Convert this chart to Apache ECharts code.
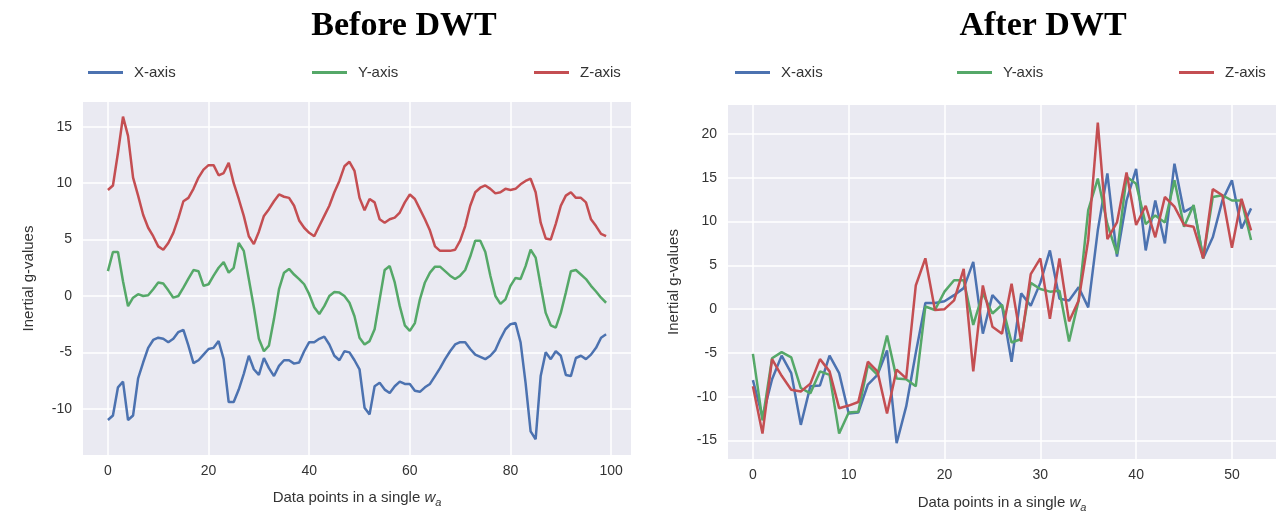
<!DOCTYPE html>
<html><head><meta charset="utf-8">
<script src="https://cdn.jsdelivr.net/npm/echarts@6/dist/echarts.min.js"></script>
<style>html,body{margin:0;padding:0;background:#fff}#c{width:1283px;height:514px}</style>
</head><body><div id="c"></div>
<script>
// ---- Data: Before DWT (100 samples) ----
const beforeX = [-11.0,-10.6,-8.1,-7.6,-11.0,-10.6,-7.3,-5.9,-4.6,-3.9,
 -3.7,-3.8,-4.1,-3.8,-3.2,-3.0,-4.4,-5.95,-5.7,-5.2,
 -4.7,-4.6,-4.0,-5.6,-9.4,-9.4,-8.3,-6.9,-5.3,-6.5,
 -7.0,-5.5,-6.4,-7.1,-6.2,-5.7,-5.7,-6.0,-5.9,-4.9,
 -4.1,-4.1,-3.8,-3.6,-4.3,-5.3,-5.7,-4.9,-5.0,-5.7,
 -6.5,-9.9,-10.5,-8.0,-7.7,-8.3,-8.6,-8.0,-7.6,-7.8,
 -7.8,-8.4,-8.5,-8.1,-7.8,-7.1,-6.4,-5.6,-4.9,-4.3,
 -4.1,-4.1,-4.7,-5.2,-5.4,-5.6,-5.3,-4.8,-3.8,-2.95,
 -2.5,-2.4,-4.1,-7.7,-12.0,-12.7,-7.1,-5.0,-5.6,-4.9,
 -5.3,-7.0,-7.1,-5.5,-5.3,-5.6,-5.2,-4.6,-3.7,-3.4];
const beforeY = [2.2,3.9,3.9,1.3,-0.9,-0.15,0.16,0.0,0.06,0.6,
 1.2,1.1,0.5,-0.15,0.0,0.74,1.54,2.3,2.2,0.9,
 1.04,1.8,2.5,3.0,2.07,2.5,4.7,4.0,1.5,-1.0,
 -3.8,-4.9,-4.4,-2.05,0.6,2.07,2.4,1.9,1.5,1.04,
 0.16,-1.0,-1.6,-0.9,0.0,0.35,0.3,0.0,-0.6,-1.8,
 -3.7,-4.3,-4.0,-2.95,-0.3,2.3,2.65,1.2,-0.9,-2.6,
 -3.1,-2.4,-0.3,1.2,2.07,2.6,2.6,2.2,1.8,1.5,
 1.8,2.3,3.5,4.9,4.9,3.9,1.8,0.0,-0.7,-0.3,
 0.9,1.6,1.5,2.65,4.1,3.4,0.9,-1.5,-2.6,-2.8,
 -1.5,0.3,2.2,2.3,1.9,1.5,0.9,0.4,-0.15,-0.6];
const beforeZ = [9.4,9.8,12.7,15.9,14.2,10.5,8.9,7.2,6.05,5.3,
 4.4,4.1,4.7,5.6,6.9,8.4,8.7,9.5,10.5,11.2,
 11.6,11.6,10.7,10.9,11.8,10.0,8.6,7.1,5.3,4.6,
 5.7,7.1,7.7,8.4,9.0,8.8,8.7,8.0,6.7,6.05,
 5.6,5.3,6.2,7.1,8.0,9.2,10.2,11.5,11.9,11.1,
 8.7,7.6,8.6,8.3,6.8,6.5,6.8,6.95,7.4,8.3,
 9.0,8.6,7.7,6.8,5.8,4.4,4.0,4.0,4.0,4.1,
 4.9,6.2,8.0,9.2,9.6,9.8,9.5,9.1,9.2,9.5,
 9.4,9.5,9.9,10.2,10.4,9.2,6.5,5.1,5.0,6.4,
 8.0,8.9,9.2,8.7,8.7,8.3,6.8,6.2,5.5,5.3];
// ---- Data: After DWT (53 samples) ----
const afterX = [-8.1,-12.3,-8.0,-5.3,-7.3,-13.2,-8.8,-8.7,-5.3,-7.3,
 -11.9,-11.8,-8.6,-7.5,-4.7,-15.3,-11.1,-5.0,0.7,0.7,
 0.9,1.6,2.4,5.4,-2.8,1.6,0.4,-6.0,1.8,0.4,
 3.0,6.7,1.2,1.0,2.5,0.2,9.0,15.5,6.0,12.4,
 16.0,6.7,12.4,7.5,16.6,11.1,11.7,5.8,8.2,12.4,
 14.7,9.2,11.5];
const afterY = [-5.1,-12.7,-5.6,-4.9,-5.5,-9.0,-9.6,-7.1,-7.5,-14.2,
 -11.8,-11.7,-6.4,-7.5,-3.0,-7.9,-8.0,-8.8,0.3,-0.1,
 2.0,3.3,3.3,-1.8,1.8,-0.5,0.5,-3.8,-3.4,3.0,
 2.3,2.0,2.1,-3.7,1.0,11.3,14.9,9.7,6.3,15.1,
 14.3,9.7,10.7,9.9,14.7,9.4,11.9,5.8,12.8,13.0,
 12.4,12.4,7.9];
const afterZ = [-8.8,-14.2,-5.7,-7.6,-9.2,-9.4,-8.5,-5.7,-7.1,-11.3,
 -11.0,-10.6,-6.0,-7.1,-11.9,-6.9,-7.9,2.7,5.8,-0.1,
 0.0,1.0,4.6,-7.1,2.7,-2.0,-2.8,2.9,-3.7,4.0,
 5.8,-1.1,5.8,-1.4,1.0,7.9,21.3,8.0,9.9,15.6,
 9.6,11.8,8.2,12.8,11.7,9.6,9.4,5.8,13.7,13.0,
 7.0,12.6,9.0];
const seriesNames = ['X-axis','Y-axis','Z-axis'];
const colors = ['#4C72B0','#55A868','#C44E52'];
const titles = ['Before DWT','After DWT'];
const yTitle = 'Inertial g-values';

const pairs = arr => arr.map((v,i)=>[i,v]);
const FONT = 'Liberation Sans';
const TXT = '#333';

function xAxisCfg(grid, min, max, step, gap){
  return {type:'value', gridIndex:grid, min:min, max:max, minInterval:step, maxInterval:step,
    axisLine:{show:false}, axisTick:{show:false},
    axisLabel:{color:TXT, fontSize:14, fontFamily:FONT, margin:9, showMinLabel:false, showMaxLabel:false},
    splitLine:{show:true, showMinLine:false, showMaxLine:false, lineStyle:{color:'#fff', width:1.5}},
    name:'Data points in a single {w|w}{a|a}', nameLocation:'middle', nameGap:gap,
    nameTextStyle:{color:TXT, fontSize:15, fontFamily:FONT, lineHeight:20,
      rich:{w:{fontStyle:'italic', fontSize:15, color:TXT, fontFamily:FONT, lineHeight:20},
            a:{fontStyle:'italic', fontSize:11, color:TXT, fontFamily:FONT, lineHeight:20, verticalAlign:'bottom'}}}
  };
}
function yAxisCfg(grid, min, max){
  return {type:'value', gridIndex:grid, min:min, max:max, minInterval:5, maxInterval:5,
    axisLine:{show:false}, axisTick:{show:false},
    axisLabel:{color:TXT, fontSize:14, fontFamily:FONT, margin:11, showMinLabel:false, showMaxLabel:false},
    splitLine:{show:true, showMinLine:false, showMaxLine:false, lineStyle:{color:'#fff', width:1.5}},
    name:yTitle, nameLocation:'middle', nameGap:47, nameRotate:90,
    nameTextStyle:{color:TXT, fontSize:15, fontFamily:FONT}
  };
}

const legendPos = [[88,312,534],[735,957,1179]];
const legends = [];
legendPos.forEach(row => row.forEach((x,k)=>{
  legends.push({data:[seriesNames[k]], left:x, top:65, padding:0, icon:'rect', itemWidth:35, itemHeight:3,
    itemStyle:{color:colors[k]},
    textStyle:{color:TXT, fontSize:15, fontFamily:FONT, padding:[0,0,0,6]}});
}));

const series = [];
[[beforeX,beforeY,beforeZ],[afterX,afterY,afterZ]].forEach((set,g)=>{
  set.forEach((arr,k)=>{
    series.push({name:seriesNames[k], type:'line', xAxisIndex:g, yAxisIndex:g,
      data:pairs(arr), showSymbol:false, symbol:'none', animation:false,
      lineStyle:{color:colors[k], width:2.5}, itemStyle:{color:colors[k]}});
  });
});

const chart = echarts.init(document.getElementById('c'), null, {renderer:'canvas'});
chart.setOption({
  backgroundColor:'#fff',
  animation:false,
  title:[
    {text:titles[0], left:399, top:4, textAlign:'center', textStyle:{fontFamily:'Liberation Serif', fontWeight:'bold', fontSize:34, color:'#000'}},
    {text:titles[1], left:1038, top:4, textAlign:'center', textStyle:{fontFamily:'Liberation Serif', fontWeight:'bold', fontSize:34, color:'#000'}}
  ],
  legend:legends,
  grid:[
    {left:83, top:102, width:548, height:353, backgroundColor:'#EAEAF2', show:true, borderWidth:0, outerBoundsMode:'none', containLabel:false},
    {left:728, top:105, width:548, height:354, backgroundColor:'#EAEAF2', show:true, borderWidth:0, outerBoundsMode:'none', containLabel:false}
  ],
  xAxis:[xAxisCfg(0,-4.95,103.95,20,33), xAxisCfg(1,-2.6,54.6,10,34)],
  yAxis:[yAxisCfg(0,-14.1,17.2), yAxisCfg(1,-17.1,23.3)],
  series:series
});
</script></body></html>
